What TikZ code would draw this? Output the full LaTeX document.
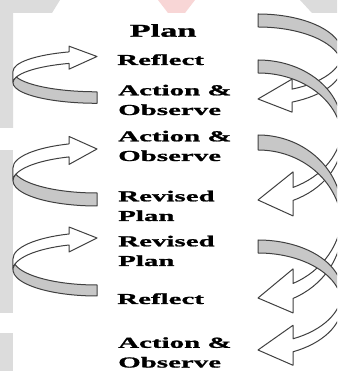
\documentclass[tikz,border=0pt]{standalone}
\usepackage{fontspec}
\newfontfamily\labelfont[FakeStretch=1.9, FakeBold=1.2]{Liberation Serif Bold}
\definecolor{margingray}{HTML}{DCDCDC}
\definecolor{marginpink}{HTML}{F8D6D6}
\tikzstyle{shaft} = [fill=white, draw=black!75, line width=0.3mm, line join=round]
\tikzstyle{band} = [fill=black!22, draw=black!75, line width=0.3mm, line join=round]
\tikzstyle{stage} = [anchor=base west, inner sep=0pt, align=left, font=\labelfont\fontsize{13}{16.8}\selectfont]

% curved ribbon arrow: #1 width, #2 height, #3 thickness, #4 head width, #5 head length
\newcommand{\curvedribbon}[5]{%
  \pgfmathsetmacro{\rw}{#1}%
  \pgfmathsetmacro{\rhR}{#2/2-(#3+#4)/4}%
  \pgfmathsetmacro{\rphi}{acos(#5/#1)}%
  \pgfmathsetmacro{\rdy}{\rhR*sin(\rphi)}%
  \pgfmathsetmacro{\rdh}{(#4-#3)/2}%
  \pgfmathsetmacro{\ralpha}{asin(#3/(2*\rhR))}%
  \pgfmathsetmacro{\rxa}{#1-#5}%
  \draw[shaft] (0,\rhR) arc[start angle=180, end angle=180-\rphi, x radius=\rw, y radius=\rhR]
    -- (\rxa,\rhR+\rdy-\rdh) -- (\rw,2*\rhR+#3/2) -- (\rxa,\rhR+\rdy+#3+\rdh)
    -- (\rxa,\rhR+\rdy+#3) arc[start angle=180-\rphi, end angle=180, x radius=\rw, y radius=\rhR] -- cycle;
  \draw[band] (\rw,#3) arc[start angle=270, end angle=180+\ralpha, x radius=\rw, y radius=\rhR]
    arc[start angle=180-\ralpha, end angle=270, x radius=\rw, y radius=\rhR] -- cycle;
}

\begin{document}
\begin{tikzpicture}[x=0.3mm, y=0.3mm]
    \useasboundingbox (0,0) rectangle (337,371);
    \clip (0,0) rectangle (337,371);
    \fill[white] (0,0) rectangle (337,371);

    % page margin
    \fill[margingray] (0,371) -- (60,371) -- (52,358) -- (13,358) -- (13,243) -- (0,243) -- cycle;
    \fill[margingray] (0,58) rectangle (13,221);
    \fill[margingray] (0,0) rectangle (13,38);
    \fill[marginpink] (158,371) -- (195,371) -- (185,358) -- (168,358) -- cycle;
    \fill[margingray] (300,371) -- (337,371) -- (337,358) -- (312,358) -- cycle;

    % left arrows
    \begin{scope}[shift={(13,267.7)}]
        \curvedribbon{84}{58.3}{11.5}{23}{28}
    \end{scope}
    \begin{scope}[shift={(13,165)}]
        \curvedribbon{84}{71}{13}{28}{28}
    \end{scope}
    \begin{scope}[shift={(13,75)}]
        \curvedribbon{84}{70.5}{11}{25}{28}
    \end{scope}

    % right arrows
    \begin{scope}[shift={(342,357)}, xscale=-1, yscale=-1]
        \curvedribbon{84}{101.5}{13}{33}{34}
    \end{scope}
    \begin{scope}[shift={(342,311)}, xscale=-1, yscale=-1]
        \curvedribbon{84}{162}{13}{44}{35}
    \end{scope}
    \begin{scope}[shift={(342,236)}, xscale=-1, yscale=-1]
        \curvedribbon{84}{185}{15}{44}{35}
    \end{scope}
    \begin{scope}[shift={(342,131)}, xscale=-1, yscale=-1]
        \curvedribbon{84}{130}{13}{40}{35}
    \end{scope}

    % stages
    \node (plan) [stage, font=\labelfont\fontsize{15.4}{18}\selectfont] at (129.5,334.3) {Plan};
    \node (reflect1) [stage] at (117,306) {Reflect};
    \node (act1) [stage] at (118,256) {Action \&\\Observe};
    \node (act2) [stage] at (118,210) {Action \&\\Observe};
    \node (revised1) [stage] at (118,150) {Revised\\Plan};
    \node (revised2) [stage] at (118,105) {Revised\\Plan};
    \node (reflect2) [stage] at (117,67) {Reflect};
    \node (act3) [stage] at (118,3.5) {Action \&\\Observe};
\end{tikzpicture}
\end{document}
